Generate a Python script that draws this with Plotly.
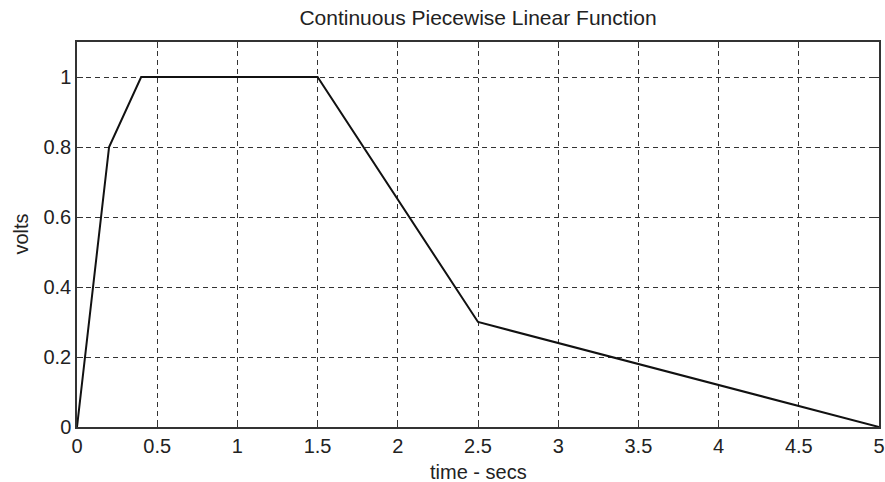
import plotly.graph_objects as go

time_s = [0, 0.2, 0.4, 1.5, 2.5, 5]
volts = [0, 0.8, 1.0, 1.0, 0.3, 0]
x_ticks = [0, 0.5, 1, 1.5, 2, 2.5, 3, 3.5, 4, 4.5, 5]
x_ticktext = ["0", "0.5", "1", "1.5", "2", "2.5", "3", "3.5", "4", "4.5", "5"]
y_ticks = [0, 0.2, 0.4, 0.6, 0.8, 1]
y_ticktext = ["0", "0.2", "0.4", "0.6", "0.8", "1"]

W, H = 885, 482
L, R, T, B = 77, 6, 42, 55
pw, ph = W - L - R, H - T - B

fig = go.Figure()
fig.add_trace(go.Scatter(x=time_s, y=volts, mode="lines",
                         line=dict(color="#111111", width=2), showlegend=False))

font = dict(family="Liberation Sans, Arial, sans-serif", color="#222222")
axis_common = dict(
    showline=True, linecolor="#333333", linewidth=1.5, mirror="ticks",
    ticks="inside", ticklen=6, tickcolor="#333333", tickwidth=1,
    showgrid=True, gridcolor="#333333", gridwidth=1, griddash="5px,4px",
    zeroline=False, tickfont=dict(size=20, **font), automargin=False,
)

fig.update_layout(
    width=W, height=H,
    margin=dict(l=L, r=R, t=T, b=B, autoexpand=False),
    paper_bgcolor="white", plot_bgcolor="white",
    title=dict(text="Continuous Piecewise Linear Function", x=(77 + 879) / 2 / W,
               xanchor="center", y=1 - 18 / H, yanchor="middle",
               font=dict(size=21, **font)),
    xaxis=dict(range=[0, 5], tickvals=x_ticks, ticktext=x_ticktext, **axis_common),
    yaxis=dict(range=[0, 1.1], tickvals=y_ticks, ticktext=y_ticktext, **axis_common),
    annotations=[
        dict(text="time - secs", xref="paper", yref="paper", x=0.5,
             y=-(472 - (H - B)) / ph, xanchor="center", yanchor="middle",
             showarrow=False, font=dict(size=20, **font)),
        dict(text="volts", xref="paper", yref="paper", x=-(L - 20) / pw,
             y=0.5, xanchor="center", yanchor="middle", textangle=-90,
             showarrow=False, font=dict(size=20, **font)),
    ],
)

fig.write_html("out.html")
